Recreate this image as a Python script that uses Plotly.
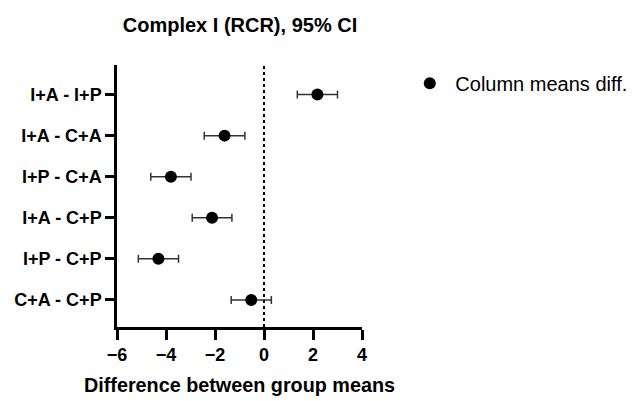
import plotly.graph_objects as go

# Pairwise comparisons and their mean differences with 95% CI half-widths
comparisons = ["I+A - I+P", "I+A - C+A", "I+P - C+A", "I+A - C+P", "I+P - C+P", "C+A - C+P"]
mean_diff = [2.18, -1.61, -3.80, -2.12, -4.31, -0.52]
ci_half = [0.82, 0.83, 0.82, 0.81, 0.82, 0.82]
x_ticks = [-6, -4, -2, 0, 2, 4]

FONT = "Liberation Sans, Arial, sans-serif"

fig = go.Figure()
fig.add_trace(go.Scatter(
    x=mean_diff,
    y=comparisons,
    mode="markers",
    name="\u00a0Column means diff.",
    marker=dict(color="black", size=12),
    error_x=dict(type="data", array=ci_half, symmetric=True,
                 color="#333333", thickness=1.5, width=4),
))

# Reference line at zero difference
fig.add_shape(type="line", xref="x", yref="paper", x0=0, x1=0, y0=0, y1=1,
              line=dict(color="black", width=2, dash="dot"))

fig.update_layout(
    width=638, height=401,
    margin=dict(l=117, r=276, t=65, b=74, autoexpand=False),
    plot_bgcolor="white", paper_bgcolor="white",
    title=dict(text="<b>Complex I (RCR), 95% CI</b>", x=240 / 638, xanchor="center",
               y=1 - 25 / 401, yanchor="middle",
               font=dict(family=FONT, size=20, color="black")),
    showlegend=True,
    legend=dict(x=1.195, y=1.005, xanchor="left", yanchor="top",
                font=dict(family=FONT, size=20, color="black"),
                bgcolor="rgba(0,0,0,0)"),
    xaxis=dict(range=[-6, 4], tickvals=x_ticks, showgrid=False, zeroline=False,
               showline=True, linecolor="black", linewidth=2.5, automargin=False,
               ticks="outside", ticklen=10, tickwidth=2.5, tickcolor="black",
               tickfont=dict(family=FONT, size=18, color="black", weight="bold"),
               title=dict(text="<b>Difference between group means</b>",
                          font=dict(family=FONT, size=19.8, color="black"), standoff=14)),
    yaxis=dict(categoryorder="array", categoryarray=comparisons,
               autorange=False, range=[5.66, -0.72], showgrid=False, zeroline=False,
               showline=True, linecolor="black", linewidth=2.5, automargin=False,
               ticks="outside", ticklen=9, tickwidth=2.5, tickcolor="black",
               tickfont=dict(family=FONT, size=18, color="black", weight="bold")),
)

fig.write_html("out.html")
